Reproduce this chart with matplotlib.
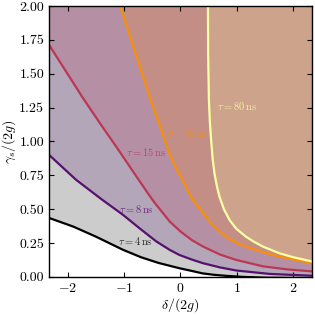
import matplotlib
matplotlib.use("Agg")
import matplotlib.pyplot as plt
from matplotlib import cm

plt.rcParams['font.family'] = 'serif'
plt.rcParams['font.serif'] = ['cmr10']
plt.rcParams['mathtext.fontset'] = 'cm'
plt.rcParams['axes.formatter.use_mathtext'] = True
plt.rcParams['axes.unicode_minus'] = True

# contour lines: (delta/(2g), gamma_s/(2g))
tau_labels = [4, 8, 15, 30, 80]
x_4 = [-2.33, -1.9, -1.5, -1.02, -0.7, -0.39, -0.02, 0.2, 0.39, 0.6, 0.8, 1.1, 1.5, 2.4]
y_4 = [0.435, 0.371, 0.297, 0.20, 0.145, 0.103, 0.064, 0.044, 0.026, 0.015, 0.008, 0.0, -0.006, -0.01]
x_8 = [-2.33, -1.85, -1.40, -1.02, -0.70, -0.43, -0.19, -0.02, 0.2, 0.40, 0.7, 0.99, 1.58, 2.35]
y_8 = [0.90, 0.716, 0.573, 0.458, 0.35, 0.262, 0.199, 0.162, 0.128, 0.101, 0.07, 0.047, 0.022, 0.008]
x_15 = [-2.33, -1.73, -1.43, -1.08, -0.78, -0.55, -0.46, -0.19, 0.0, 0.2, 0.40, 0.7, 0.99, 1.46, 1.9, 2.35]
y_15 = [1.712, 1.32, 1.135, 0.925, 0.74, 0.60, 0.548, 0.408, 0.335, 0.272, 0.224, 0.165, 0.125, 0.078, 0.055, 0.040]
x_30 = [-1.07, -0.55, -0.43, -0.28, -0.19, -0.05, 0.04, 0.20, 0.34, 0.54, 0.7, 0.87, 1.0, 1.16, 1.46, 1.75, 2.05, 2.35]
y_30 = [2.0, 1.33, 1.19, 1.011, 0.90, 0.777, 0.71, 0.58, 0.50, 0.396, 0.33, 0.278, 0.25, 0.224, 0.182, 0.150, 0.124, 0.101]
x_80 = [0.487, 0.49, 0.504, 0.52, 0.543, 0.572, 0.602, 0.64, 0.69, 0.77, 0.87, 0.99, 1.16, 1.3, 1.46, 1.75, 2.0, 2.35]
y_80 = [2.0, 1.65, 1.306, 1.15, 1.011, 0.863, 0.765, 0.68, 0.593, 0.50, 0.42, 0.355, 0.297, 0.26, 0.224, 0.175, 0.145, 0.112]

label_pos = [(-0.80, 0.266), (-0.78, 0.50), (-0.62, 0.925), (0.12, 1.065), (1.0, 1.262)]

curves = [(x_4, y_4), (x_8, y_8), (x_15, y_15), (x_30, y_30), (x_80, y_80)]
cvals = [0.0, 0.25, 0.5, 0.75, 1.0]

xmin, xmax = -2.33, 2.33
ymin, ymax = 0.0, 2.0

fig = plt.figure(figsize=(3.15, 3.15), dpi=100)
ax = fig.add_axes([0.156, 0.121, 0.834, 0.860])

for (xs, ys), cv in zip(curves, cvals):
    col = cm.inferno(cv)
    px = list(xs) + [xmax + 0.1, xmin - 0.1]
    py = list(ys) + [ymax + 0.1, ymax + 0.1]
    if xs[0] > xmin:
        px = [xs[0]] + px[:-1] + [xs[0]]
        py = [ymax + 0.1] + py[:-1] + [ymax + 0.1]
    ax.fill(px, py, color=col, alpha=0.2, lw=0)

for (xs, ys), cv in zip(curves, cvals):
    col = cm.inferno(cv)
    ax.plot(xs, ys, color=col, lw=1.6, solid_joinstyle='round')

for t, (lx, ly), cv in zip(tau_labels, label_pos, cvals):
    col = cm.inferno(cv)
    ax.text(lx, ly, r'$\tau = %d\,\mathrm{ns}$' % t, color=col, alpha=0.8,
            fontsize=7.5, ha='center', va='center')

ax.set_xlim(xmin, xmax)
ax.set_ylim(ymin, ymax)
ax.set_xticks([-2, -1, 0, 1, 2])
ax.set_yticks([0, 0.25, 0.5, 0.75, 1.0, 1.25, 1.5, 1.75, 2.0])
ax.yaxis.set_major_formatter(matplotlib.ticker.FormatStrFormatter('%.2f'))
ax.tick_params(direction='in', top=True, right=True, labelsize=10, length=3.5, width=0.8)
for s in ax.spines.values():
    s.set_linewidth(1.0)
ax.set_xlabel(r'$\delta/(2g)$', fontsize=10, labelpad=1)
ax.set_ylabel(r'$\gamma_s/(2g)$', fontsize=10, labelpad=1)

fig.savefig('out.png', dpi=100)
